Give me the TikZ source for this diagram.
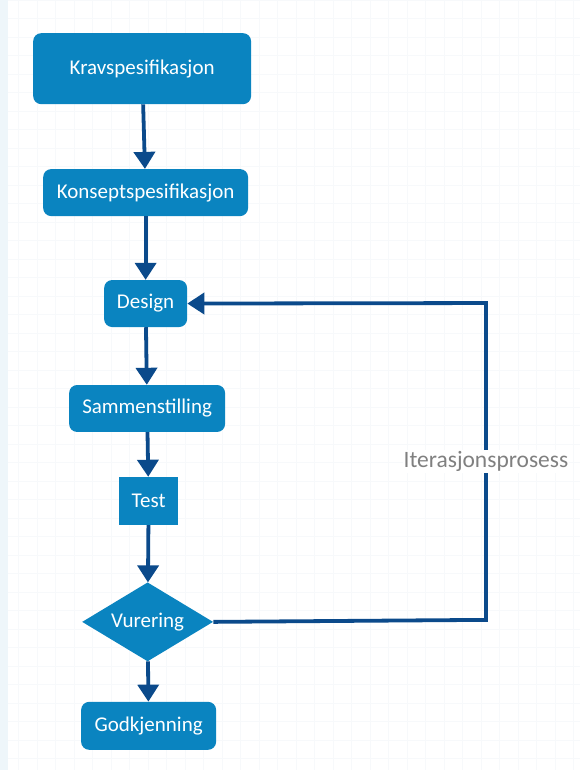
\documentclass[tikz,border=0pt]{standalone}
\usepackage{fontspec}
\setmainfont{Carlito}
\usetikzlibrary{shapes.geometric,arrows.meta}
\definecolor{boxblue}{HTML}{0A84C0}
\definecolor{linkblue}{HTML}{0B4A8B}
\definecolor{labelgray}{HTML}{808080}
\definecolor{gridcol}{HTML}{F7F9FB}
\definecolor{stripcol}{HTML}{EEF6FA}
\tikzset{
  stage/.style={fill=boxblue, rounded corners=8pt, text=white, align=center, inner sep=0pt},
  testbox/.style={fill=boxblue, text=white, inner sep=0pt},
  decision/.style={diamond, fill=boxblue, text=white, inner sep=0pt, aspect=1.65},
  flow/.style={draw=linkblue, line width=3.8pt, -{Triangle[width=21pt,length=17pt]}},
}
\begin{document}
\begin{tikzpicture}[x=1pt, y=-1pt, font=\fontsize{21}{24}\selectfont]
\fill[white] (0,0) rectangle (580,770);
\draw[gridcol, step=18.5pt] (0,0) grid (580,770);
\fill[stripcol] (0,0) rectangle (8,770);
\useasboundingbox (0,0) rectangle (580,770);

\node[stage, minimum width=218pt, minimum height=71pt] (krav) at (142,68.5) {Kravspesifikasjon};
\node[stage, minimum width=205pt, minimum height=47pt] (konsept) at (145.5,192.5) {Konseptspesifikasjon};
\node[stage, minimum width=83pt, minimum height=47pt] (design) at (145.5,303.5) {Design};
\node[stage, minimum width=156pt, minimum height=47pt] (samm) at (147,408.5) {Sammenstilling};
\node[testbox, minimum width=59pt, minimum height=48pt] (test) at (148.5,501) {Test};
\node[decision, minimum width=131pt, minimum height=79pt] (vur) at (147.5,622) {Vurering};
\node[stage, minimum width=135pt, minimum height=48pt] (godk) at (148.5,726) {Godkjenning};
\coordinate (loopb) at (486,620);
\coordinate (loopt) at (486,303);

\path[flow] (krav) -- (konsept);
\path[flow] (konsept) -- (design);
\path[flow] (design) -- (samm);
\path[flow] (samm) -- (test);
\path[flow] (test) -- (vur);
\path[flow] (vur) -- (godk);
\path[flow] (vur.east) -- (loopb) -- node[fill=white, text=labelgray, inner sep=1pt, pos=0.5, font=\fontsize{23.5}{26}\selectfont] {Iterasjonsprosess} (loopt) -- (design.east);
\end{tikzpicture}
\end{document}
